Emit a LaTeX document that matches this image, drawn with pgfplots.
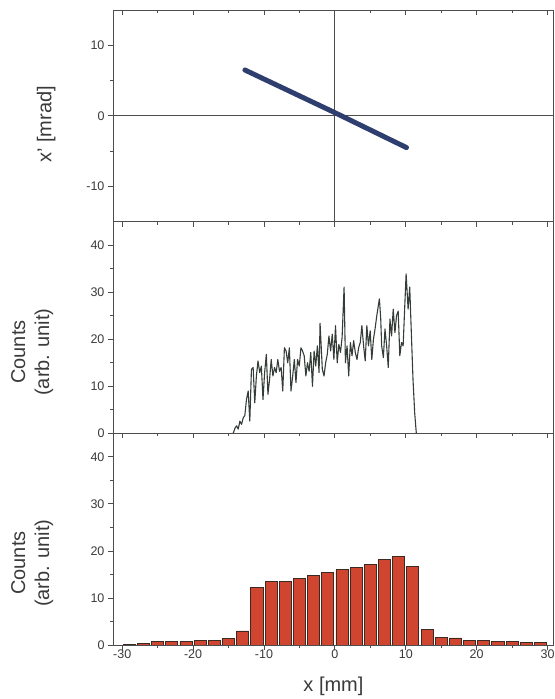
\documentclass[border=0pt]{standalone}
\usepackage{fontspec}
\setmainfont{Liberation Sans}
\usepackage{pgfplots}
\pgfplotsset{compat=1.18}
\definecolor{axisgray}{HTML}{4D4D4D}
\definecolor{labgray}{HTML}{3A3A3A}
\definecolor{beamblue}{HTML}{2E3F6F}
\definecolor{curvegray}{HTML}{343D38}
\definecolor{barred}{HTML}{CF4530}
\definecolor{baredge}{HTML}{3C2A22}

\pgfplotsset{
  panel/.style={
    width=441pt, height=211.7pt, scale only axis,
    xmin=-31.3, xmax=30.9,
    xtick={-30,-20,...,30}, minor x tick num=1,
    xtick pos=upper, xticklabels={},
    ytick pos=left, minor y tick num=1,
    axis line style={axisgray, line width=0.9pt},
    every tick/.style={axisgray, line width=0.8pt},
    major tick length=5pt, minor tick length=3pt,
    /pgf/number format/assume math mode=true,
    tick label style={font=\fontsize{12.5}{14}\selectfont, text=labgray},
    label style={font=\fontsize{20}{24}\selectfont, text=labgray},
    clip=true,
  },
}

\begin{document}
\begin{tikzpicture}
% top: phase space
\begin{axis}[panel, name=top, at={(0,0)}, anchor=north west,
  ymin=-15, ymax=15, ytick={-10,0,10},
  xtick align=inside, ytick align=outside,
  ylabel={x' [mrad]},
  ylabel style={at={(axis description cs:-0.1516,0.46)}, anchor=center},
]
\addplot[axisgray, line width=0.8pt] coordinates {(0,-15) (0,15)};
\addplot[axisgray, line width=0.8pt] coordinates {(-31.3,0) (30.9,0)};
\addplot[beamblue, line width=5pt, line cap=round] coordinates {(-12.7,6.5) (0,0.45) (10.1,-4.5)};
\end{axis}

% middle: fine profile
\begin{axis}[panel, name=mid, at={(top.south west)}, anchor=north west,
  ymin=0, ymax=45, ytick={0,10,...,40},
  xtick align=inside, ytick align=outside,
  ylabel={Counts\\(arb. unit)},
  ylabel style={at={(axis description cs:-0.183,0.384)}, anchor=center, align=center},
]
\addplot[curvegray, line width=1.1pt, line join=round] table {
-14.60 0
-14.33 0.0
-14.09 1.1
-13.86 1.6
-13.63 0.9
-13.40 2.6
-13.16 1.9
-12.93 3.3
-12.70 3.8
-12.47 7.2
-12.23 9.0
-12.00 2.6
-11.77 13.6
-11.53 14.0
-11.30 6.5
-11.07 12.2
-10.84 15.4
-10.60 12.9
-10.37 14.3
-10.14 7.2
-9.91 12.9
-9.67 16.8
-9.44 8.3
-9.21 11.5
-8.98 15.7
-8.74 12.2
-8.51 14.0
-8.28 12.9
-8.05 15.7
-7.81 13.2
-7.58 14.0
-7.35 9.0
-7.12 18.2
-6.88 17.5
-6.65 15.0
-6.42 18.2
-6.19 9.0
-5.95 12.2
-5.72 15.7
-5.49 10.8
-5.26 15.7
-5.02 14.3
-4.79 18.2
-4.56 17.5
-4.33 16.5
-4.09 12.2
-3.86 15.0
-3.63 13.2
-3.40 17.2
-3.16 10.0
-2.93 17.5
-2.70 14.3
-2.47 18.6
-2.23 12.9
-2.09 23.4
-1.77 13.6
-1.53 12.2
-1.30 15.0
-1.07 16.8
-0.84 20.7
-0.60 17.5
-0.37 21.1
-0.14 15.7
0.09 22.9
0.33 15.0
0.56 18.9
0.79 17.2
1.02 20.4
1.30 31.1
1.49 15.0
1.72 18.6
1.95 12.2
2.19 19.3
2.42 16.5
2.65 19.7
2.88 17.2
3.12 15.7
3.35 18.2
3.58 19.3
3.81 22.9
4.05 18.6
4.28 15.4
4.51 22.9
4.74 18.6
4.98 21.8
5.21 15.7
5.44 20.0
5.67 22.2
5.91 25.0
6.28 28.6
6.47 24.3
6.60 18.6
6.84 16.1
7.07 22.2
7.30 18.6
7.53 14.0
7.77 24.3
8.00 20.7
8.23 26.4
8.47 21.4
8.70 25.0
8.93 26.0
9.16 16.5
9.40 19.3
9.63 18.6
9.86 27.1
10.05 33.9
10.33 26.4
10.56 31.1
10.70 25.0
11.02 11.5
11.26 4.3
11.49 0
};
\end{axis}

% bottom: binned profile
\begin{axis}[panel, name=bot, at={(mid.south west)}, anchor=north west,
  ymin=0, ymax=45, ytick={0,10,...,40},
  xtick align=inside, ytick align=outside,
  ylabel={Counts\\(arb. unit)},
  ylabel style={at={(axis description cs:-0.183,0.387)}, anchor=center, align=center},
]
\addplot[ybar, bar width=1.7, bar shift=0pt, fill=barred, draw=baredge, line width=0.8pt] coordinates {
(-29,0.2) (-27,0.3) (-25,0.7) (-23,0.85) (-21,0.85) (-19,0.9) (-17,1.05) (-15,1.35)
(-13,3.0) (-11,12.3) (-9,13.5) (-7,13.5) (-5,14.1) (-3,14.7) (-1,15.5) (1,16.0)
(3,16.4) (5,17.2) (7,18.2) (9,18.8) (11,16.7) (13,3.3) (15,1.7) (17,1.5)
(19,1.05) (21,0.9) (23,0.8) (25,0.85) (27,0.55) (29,0.55)
};
\end{axis}

% bottom ticks and labels of the lowest panel
\begin{axis}[panel, at={(mid.south west)}, anchor=north west,
  ymin=0, ymax=45, hide y axis,
  xtick pos=lower, xtick align=outside,
  xticklabels={-30,-20,-10,0,10,20,30},
  xticklabel style={yshift=4pt},
  xlabel={x [mm]},
  xlabel style={at={(axis description cs:0.5,0)}, anchor=center, yshift=-41pt},
]
\end{axis}

\pgfresetboundingbox
\path ([xshift=-113pt,yshift=10pt]top.north west) rectangle ([xshift=1pt,yshift=-54pt]bot.south east);
\end{tikzpicture}
\end{document}
